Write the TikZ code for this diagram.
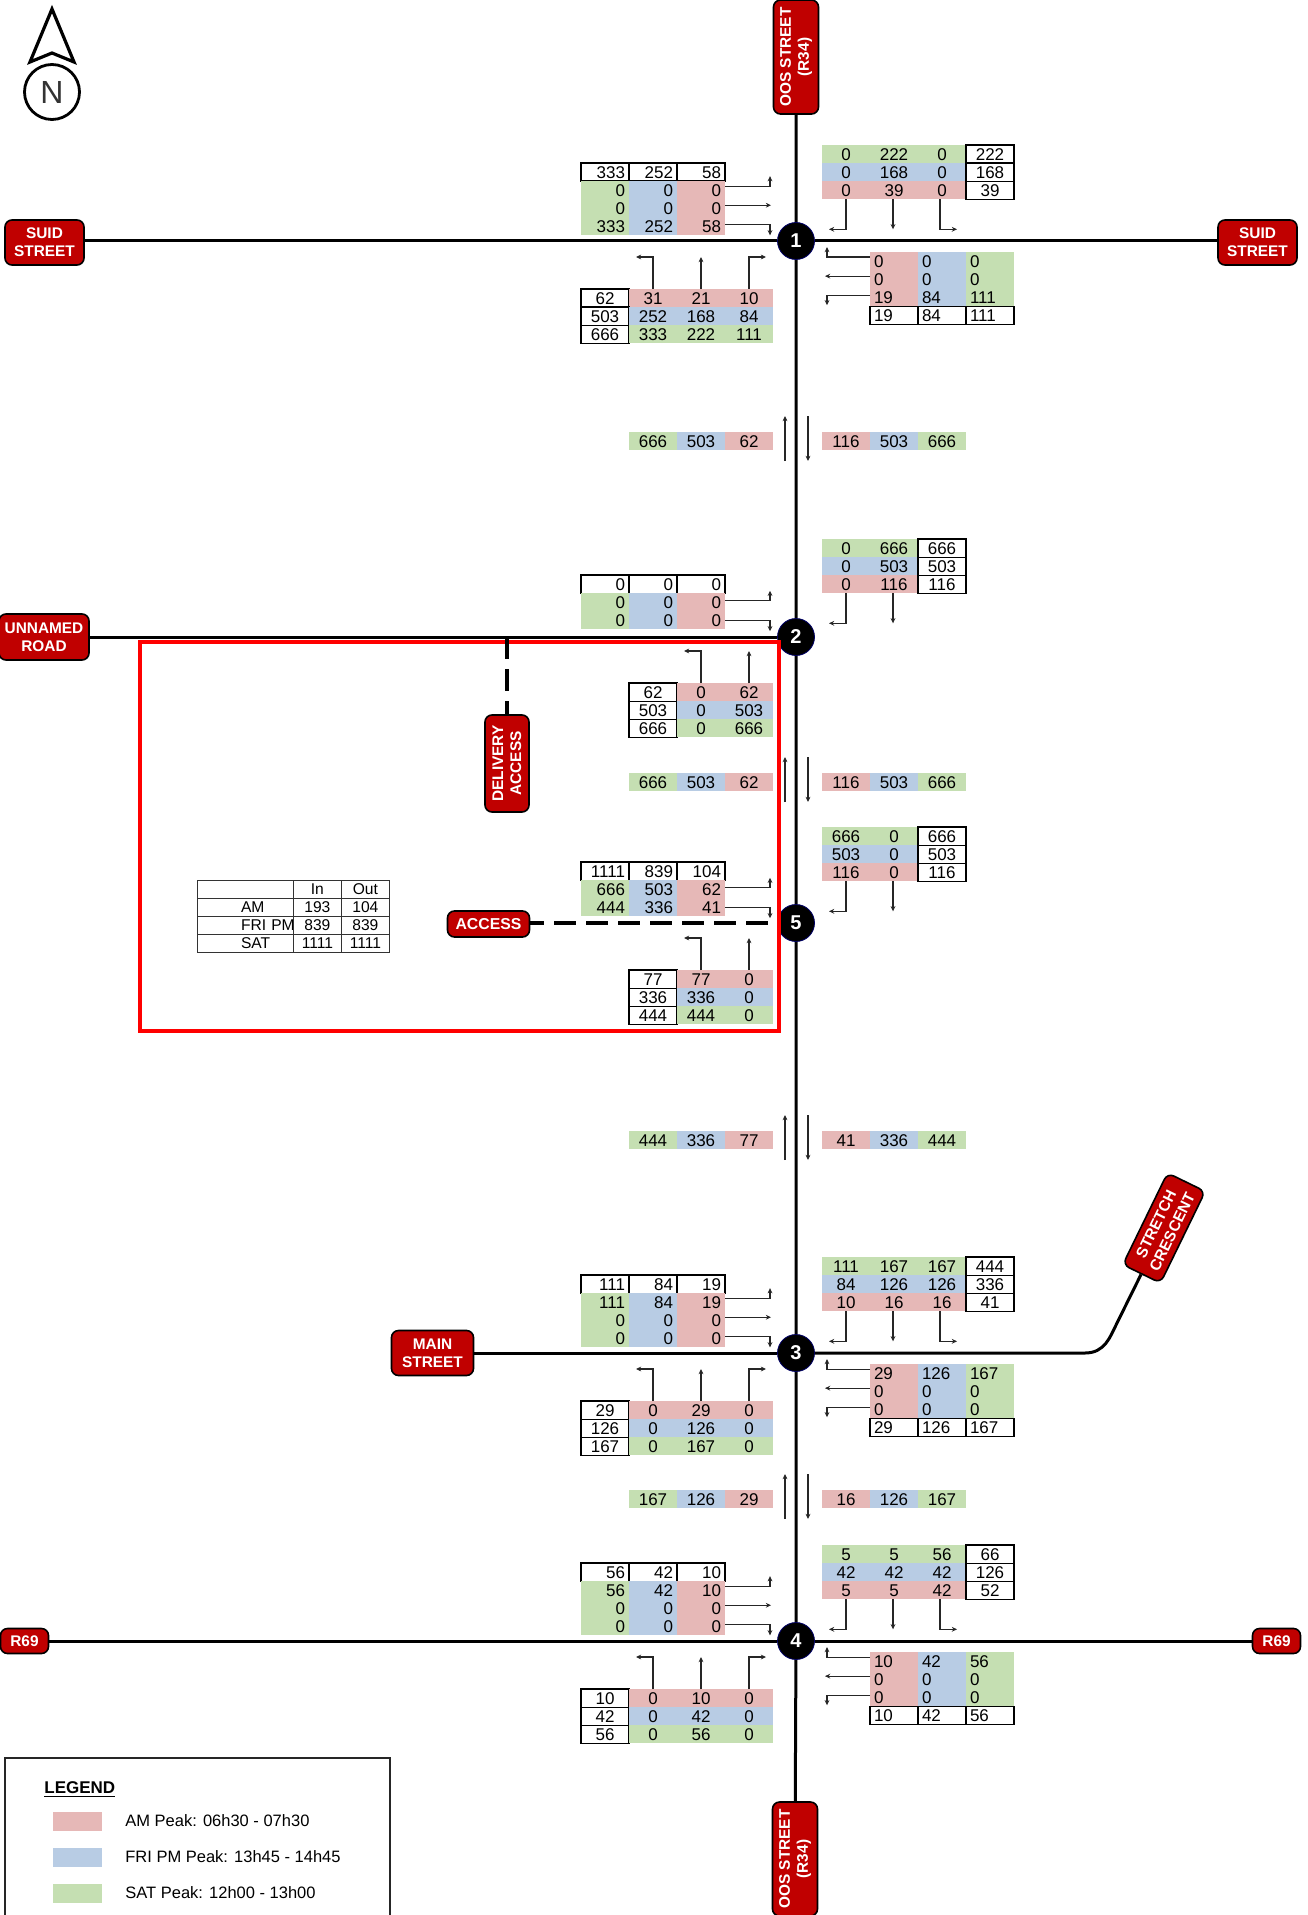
\documentclass[tikz,border=0pt]{standalone}
\usepackage{fontspec}
\usetikzlibrary{arrows.meta}
\setmainfont{Liberation Sans}
\definecolor{amred}{HTML}{E6B8B7}
\definecolor{pmblue}{HTML}{B8CCE4}
\definecolor{satgreen}{HTML}{C5DFB2}
\definecolor{signred}{HTML}{C00000}
\tikzset{
  cell/.style={anchor=north west, minimum width=24pt, minimum height=9.05pt, inner ysep=0pt, inner xsep=2pt,
    outer sep=0pt, text width=20pt, text height=6.1pt, text depth=0pt, font=\fontsize{8.5}{9}\selectfont},
  am/.style={fill=amred},
  pm/.style={fill=pmblue},
  sat/.style={fill=satgreen},
  tot/.style={fill=white, draw=black, line width=.6pt},
  sumcell/.style={anchor=north west, draw=black!80, line width=.4pt, minimum height=9.05pt, inner sep=0pt, outer sep=0pt,
    text height=5.6pt, text depth=0pt, align=center, font=\fontsize{7.8}{9}\selectfont},
  flow/.style={-{Stealth[length=2.6pt, width=2.4pt]}, line width=.55pt, black!85},
  road/.style={line width=1.5pt},
  accessroad/.style={line width=1.65pt, dash pattern=on 11pt off 5pt},
  sign/.style={draw=black, fill=signred, line width=.8pt, rounded corners=3.5pt, text=white, align=center, inner sep=0pt,
    font=\fontsize{7.7}{9}\bfseries\selectfont},
  junction/.style={circle, fill=black, draw=black!60!blue, line width=.4pt, minimum size=18.5pt, inner sep=0pt, text=white,
    font=\fontsize{10}{10}\bfseries\selectfont},
}
% name, x, y, alignment, rows of style/value
\newcommand{\gridtab}[5]{
  \foreach \cellrow [count=\j from 0] in {#5}{
    \foreach \st/\val [count=\i from 0] in \cellrow{
      \node[cell, \st, align=#4] (#1-\i-\j) at ({#2+48*\i},{#3+18.1*\j}) {\val};
    }
  }
}
% name, y, three values left of the road, three values right of it
\newcommand{\linkstrip}[8]{
  \gridtab{#1L}{629}{#2}{center}{{sat/#3,pm/#4,am/#5}}
  \gridtab{#1R}{822}{#2}{center}{{am/#6,pm/#7,sat/#8}}
  \draw[flow] ({785},{#2+29}) -- ({785},{#2-16});
  \draw[flow] ({808},{#2-16}) -- ({808},{#2+29});
}
% full crossing
\newcommand{\flowsfull}[1]{
  \draw[flow] ([yshift=2pt]#1NW-2-1.east) -- ++(45,0) -- ++(0,-10);
  \draw[flow] ([yshift=1.5pt]#1NW-2-2.east) -- ++(46,0);
  \draw[flow] ([yshift=1pt]#1NW-2-3.east) -- ++(45,0) -- ++(0,11);
  \draw[flow] (#1NE-0-2.south) -- ++(0,30) -- ++(-17,0);
  \draw[flow] ([xshift=-.5pt]#1NE-1-2.south) -- ++(0,30);
  \draw[flow] ([xshift=-1pt]#1NE-2-2.south) -- ++(0,30) -- ++(17,0);
  \draw[flow] ([yshift=2pt]#1SE-0-0.west) -- ++(-43,0) -- ++(0,-10);
  \draw[flow] ([yshift=1.5pt]#1SE-0-1.west) -- ++(-45,0);
  \draw[flow] ([yshift=1pt]#1SE-0-2.west) -- ++(-43,0) -- ++(0,10);
  \draw[flow] (#1SW-1-0.north) -- ++(0,-32) -- ++(-17,0);
  \draw[flow] (#1SW-2-0.north) -- ++(0,-32);
  \draw[flow] (#1SW-3-0.north) -- ++(0,-32) -- ++(17,0);
}
% T crossing, no east arm
\newcommand{\flowstee}[1]{
  \draw[flow] ([yshift=.7pt]#1NW-2-1.east) -- ++(45,0) -- ++(0,-10);
  \draw[flow] (#1NW-2-2.east) -- ++(45,0) -- ++(0,11);
  \draw[flow] (#1NE-0-2.south) -- ++(0,30) -- ++(-17,0);
  \draw[flow] ([xshift=-.5pt]#1NE-1-2.south) -- ++(0,30);
  \draw[flow] (#1SW-1-0.north) -- ++(0,-32) -- ++(-17,0);
  \draw[flow] (#1SW-2-0.north) -- ++(0,-32);
}
\begin{document}
\begin{tikzpicture}[x=.5pt, y=-.5pt]
  \useasboundingbox (0,0) rectangle (1307,1915);
  % north arrow
  \draw[line width=1.6pt, miter limit=10] (52,9) -- (74,62) -- (52,53) -- (30,62) -- cycle;
  \node[draw, circle, line width=1.4pt, minimum size=27.5pt, inner sep=0pt, text=black!80, font=\fontsize{16}{16}\selectfont] (north) at (52,92) {N};
  % street names
  \node[sign, rotate=90, minimum width=57pt, minimum height=22.5pt] (oostop) at (796,57) {OOS STREET\\(R34)};
  \node[sign, rotate=90, minimum width=57pt, minimum height=22.5pt] (oosbot) at (795,1859) {OOS STREET\\(R34)};
  \node[sign, minimum width=39.5pt, minimum height=22.5pt] (suidw) at (44.5,242.5) {SUID\\STREET};
  \node[sign, minimum width=39.5pt, minimum height=22.5pt] (suide) at (1257.5,242.5) {SUID\\STREET};
  \node[sign, minimum width=45pt, minimum height=23pt] (unnamed) at (44,637) {UNNAMED\\ROAD};
  \node[sign, rotate=90, minimum width=48.5pt, minimum height=22pt] (delivery) at (507,763.5) {DELIVERY\\ACCESS};
  \node[sign, minimum width=41pt, minimum height=13pt, font=\fontsize{7.9}{9}\bfseries\selectfont] (access) at (488.5,924) {ACCESS};
  \node[sign, minimum width=41pt, minimum height=22.5pt] (mainst) at (432.5,1353) {MAIN\\STREET};
  \node[sign, rotate=64, minimum width=51pt, minimum height=21pt] (stretch) at (1164,1228) {STRETCH\\CRESCENT};
  \node[sign, minimum width=24pt, minimum height=12.5pt] (rw) at (24.5,1641) {R69};
  \node[sign, minimum width=24pt, minimum height=12.5pt] (re) at (1276.5,1641) {R69};
  % crossings
  \node[junction] (j1) at (796,241) {1};
  \node[junction] (j2) at (796,637) {2};
  \node[junction] (j5) at (796,923) {5};
  \node[junction] (j3) at (796,1353) {3};
  \node[junction] (j4) at (796,1641) {4};
  % development site
  \draw[red, line width=1.6pt] (140,642) rectangle (779,1031);
  % roads
  \draw[road] (oostop) -- (j1) -- (j2) -- (j5) -- (j3) -- (j4) -- (oosbot);
  \draw[road] (suidw.east |- j1) -- (j1) -- (suide.west |- j1);
  \draw[road] (unnamed) -- (j2);
  \draw[road] (mainst) -- (j3);
  \draw[road] (j3) -- (1085,1353) .. controls (1105,1353) and (1110,1337) .. (1117,1323) -- (stretch);
  \draw[road] (rw) -- (j4) -- (re);
  \coordinate (tee) at (delivery.east |- j2);
  \draw[accessroad] (tee) -- (delivery);
  \draw[accessroad, dash phase=4pt] (access.east |- j5) -- (j5);
  % crossing 1
  \gridtab{oneNW}{581}{163}{right}{{tot/333,tot/252,tot/58},{sat/0,pm/0,am/0},{sat/0,pm/0,am/0},{sat/333,pm/252,am/58}}
  \gridtab{oneNE}{822}{145}{center}{{sat/0,sat/222,sat/0,tot/222},{pm/0,pm/168,pm/0,tot/168},{am/0,am/39,am/0,tot/39}}
  \gridtab{oneSE}{870}{252}{left}{{am/0,pm/0,sat/0},{am/0,pm/0,sat/0},{am/19,pm/84,sat/111},{tot/19,tot/84,tot/111}}
  \gridtab{oneSW}{581}{289}{center}{{tot/62,am/31,am/21,am/10},{tot/503,pm/252,pm/168,pm/84},{tot/666,sat/333,sat/222,sat/111}}
  \flowsfull{one}
  \linkstrip{oneTwo}{432}{666}{503}{62}{116}{503}{666}
  % crossing 2
  \gridtab{twoNW}{581}{575}{right}{{tot/0,tot/0,tot/0},{sat/0,pm/0,am/0},{sat/0,pm/0,am/0}}
  \gridtab{twoNE}{822}{539}{center}{{sat/0,sat/666,tot/666},{pm/0,pm/503,tot/503},{am/0,am/116,tot/116}}
  \gridtab{twoSW}{629}{683}{center}{{tot/62,am/0,am/62},{tot/503,pm/0,pm/503},{tot/666,sat/0,sat/666}}
  \flowstee{two}
  \linkstrip{twoFive}{773}{666}{503}{62}{116}{503}{666}
  % crossing 5
  \gridtab{fiveNW}{581}{862}{right}{{tot/1111,tot/839,tot/104},{sat/666,pm/503,am/62},{sat/444,pm/336,am/41}}
  \gridtab{fiveNE}{822}{827}{center}{{sat/666,sat/0,tot/666},{pm/503,pm/0,tot/503},{am/116,am/0,tot/116}}
  \gridtab{fiveSW}{629}{970}{center}{{tot/77,am/77,am/0},{tot/336,pm/336,pm/0},{tot/444,sat/444,sat/0}}
  \flowstee{five}
  \linkstrip{fiveThree}{1131}{444}{336}{77}{41}{336}{444}
  % crossing 3
  \gridtab{threeNW}{581}{1275}{right}{{tot/111,tot/84,tot/19},{sat/111,pm/84,am/19},{sat/0,pm/0,am/0},{sat/0,pm/0,am/0}}
  \gridtab{threeNE}{822}{1257}{center}{{sat/111,sat/167,sat/167,tot/444},{pm/84,pm/126,pm/126,tot/336},{am/10,am/16,am/16,tot/41}}
  \gridtab{threeSE}{870}{1364}{left}{{am/29,pm/126,sat/167},{am/0,pm/0,sat/0},{am/0,pm/0,sat/0},{tot/29,tot/126,tot/167}}
  \gridtab{threeSW}{581}{1401}{center}{{tot/29,am/0,am/29,am/0},{tot/126,pm/0,pm/126,pm/0},{tot/167,sat/0,sat/167,sat/0}}
  \flowsfull{three}
  \linkstrip{threeFour}{1490}{167}{126}{29}{16}{126}{167}
  % crossing 4
  \gridtab{fourNW}{581}{1563}{right}{{tot/56,tot/42,tot/10},{sat/56,pm/42,am/10},{sat/0,pm/0,am/0},{sat/0,pm/0,am/0}}
  \gridtab{fourNE}{822}{1545}{center}{{sat/5,sat/5,sat/56,tot/66},{pm/42,pm/42,pm/42,tot/126},{am/5,am/5,am/42,tot/52}}
  \gridtab{fourSE}{870}{1652}{left}{{am/10,pm/42,sat/56},{am/0,pm/0,sat/0},{am/0,pm/0,sat/0},{tot/10,tot/42,tot/56}}
  \gridtab{fourSW}{581}{1689}{center}{{tot/10,am/0,am/10,am/0},{tot/42,pm/0,pm/42,pm/0},{tot/56,sat/0,sat/56,sat/0}}
  \flowsfull{four}
  % trip summary
  \foreach \lbl/\vin/\vout [count=\j from 0] in {{}/In/Out,AM/193/104,FRI PM/839/839,SAT/1111/1111}{
    \node[sumcell, minimum width=48.2pt, text width=48.2pt, align=left] (sum-0-\j) at ({197},{880+18*\j}) {\hspace*{22pt}\rlap{\lbl}};
    \node[sumcell, minimum width=24pt] (sum-1-\j) at ({293.4},{880+18*\j}) {\vin};
    \node[sumcell, minimum width=24pt] (sum-2-\j) at ({341.4},{880+18*\j}) {\vout};
  }
  % legend
  \draw[black!85, line width=.8pt] (390,1915) -- (390,1758) -- (5,1758) -- (5,1915);
  \node[anchor=west, inner sep=0pt, font=\fontsize{8.5}{9}\bfseries\selectfont] (legend) at (44,1790) {\underline{LEGEND}};
  \foreach \st/\txt/\ypos in {am/AM Peak: 06h30 - 07h30/1821,pm/FRI PM Peak: 13h45 - 14h45/1857,sat/SAT Peak: 12h00 - 13h00/1893}{
    \node[\st, minimum width=24.5pt, minimum height=9.5pt, inner sep=0pt] (key\st) at (77.5,\ypos) {};
    \node[anchor=west, inner sep=0pt, font=\fontsize{8.25}{9}\selectfont] (text\st) at (125,\ypos) {\txt};
  }
\end{tikzpicture}
\end{document}
